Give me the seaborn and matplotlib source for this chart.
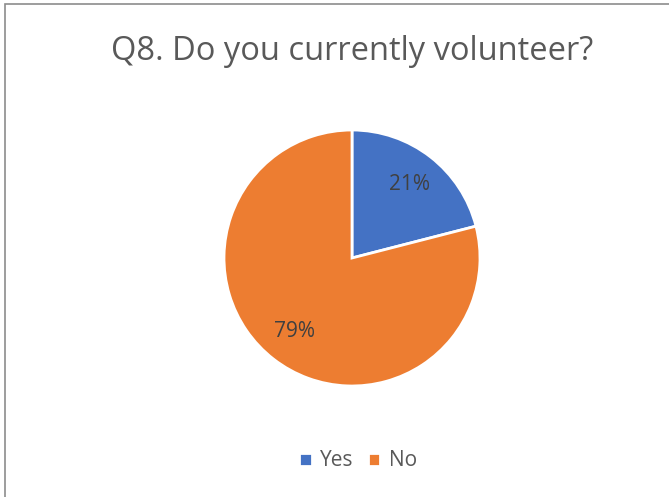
import matplotlib.pyplot as plt
import seaborn as sns
from matplotlib.patches import Rectangle

# Data
labels = ["Yes", "No"]
shares = [21, 79]
colors = ["#4472C4", "#ED7D31"]

sns.set_theme(style="white")
plt.rcParams["font.family"] = ["Open Sans", "DejaVu Sans"]

fig = plt.figure(figsize=(6.69, 4.97), dpi=100)
ax = fig.add_axes([0.0, 0.0, 1.0, 1.0])

# Chart frame (right and bottom edges fall outside the image)
fig.patches.append(Rectangle((5 / 669, -0.1), 1.2, 1.1 - 4 / 497,
                             transform=fig.transFigure, fill=False,
                             edgecolor="#8c8c8c", linewidth=1.2))

# Pie positioned inside an inset axes
pie_ax = fig.add_axes([(352 - 131) / 669, 1 - (258 + 131) / 497, 262 / 669, 262 / 497])
wedges, texts, autotexts = pie_ax.pie(
    shares, colors=colors, startangle=90, counterclock=False,
    autopct="%d%%", pctdistance=0.73,
    wedgeprops=dict(edgecolor="white", linewidth=2),
    textprops=dict(color="#404040", fontsize=15),
    radius=128 / 131,
)
pie_ax.set_xlim(-1, 1)
pie_ax.set_ylim(-1, 1)
pie_ax.set_aspect("equal")
ax.axis("off")

fig.text(352 / 669, 1 - 51 / 497, "Q8. Do you currently volunteer?",
         ha="center", va="center", fontsize=23.5, color="#595959")

leg = fig.legend(wedges, labels, loc="center", bbox_to_anchor=(358 / 669, 1 - 461 / 497),
                 ncol=2, frameon=False, fontsize=15, handlelength=0.6, handleheight=0.6,
                 handletextpad=0.4, columnspacing=0.7, labelcolor="#595959")

fig.savefig("out.png", dpi=100)
